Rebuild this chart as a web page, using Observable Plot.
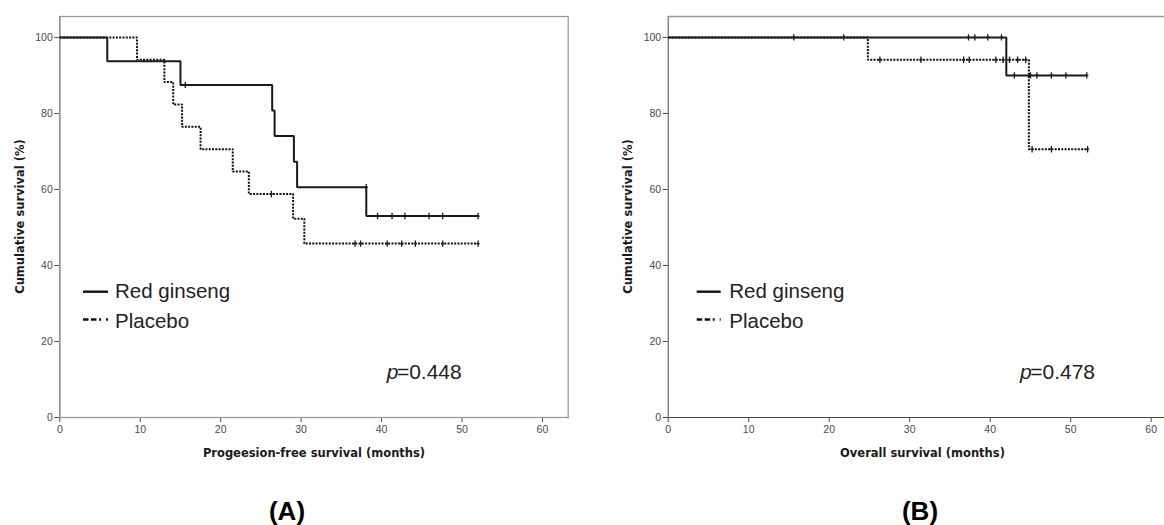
<!DOCTYPE html>
<html><head><meta charset="utf-8">
<script src="https://cdn.jsdelivr.net/npm/d3@7"></script>
<script src="https://cdn.jsdelivr.net/npm/@observablehq/plot@0.6"></script>
<style>
html,body{margin:0;padding:0;background:#fff;width:1164px;height:525px;overflow:hidden;position:relative}
.panel{position:absolute;top:0}
#overlay{position:absolute;left:0;top:0;pointer-events:none}
</style>
</head><body>
<div id="pA" class="panel" style="left:0px"></div>
<div id="pB" class="panel" style="left:582px"></div>
<svg id="overlay" width="1164" height="525"></svg>
<script>
// ---- data ----
const timeTicks = [0, 10, 20, 30, 40, 50, 60];
const survTicks = [0, 20, 40, 60, 80, 100];
const seriesNames = ["Red ginseng", "Placebo"];
const panelLabels = ["(A)", "(B)"];
const xTitles = ["Progeesion-free survival (months)", "Overall survival (months)"];
const yTitle = "Cumulative survival (%)";
const pValues = ["0.448", "0.478"];

// Panel A: progression-free survival
const pfsRedTime = [0, 5.9, 15.0, 26.4, 26.7, 29.1, 29.5, 38.1, 52.0];
const pfsRedSurv = [100, 93.75, 87.5, 80.77, 74.04, 67.31, 60.58, 53.0, 53.0];
const pfsRedCensTime = [15.6, 38.1, 39.5, 41.3, 42.9, 45.9, 47.6, 52.0];
const pfsRedCensSurv = [87.5, 60.58, 53.0, 53.0, 53.0, 53.0, 53.0, 53.0];
const pfsPlaTime = [0, 9.6, 13.0, 14.1, 15.2, 17.5, 21.5, 23.5, 29.0, 30.4, 52.0];
const pfsPlaSurv = [100, 94.12, 88.24, 82.35, 76.47, 70.59, 64.71, 58.82, 52.29, 45.75, 45.75];
const pfsPlaCensTime = [26.3, 36.7, 37.4, 40.7, 42.5, 44.2, 47.6, 52.0];
const pfsPlaCensSurv = [58.82, 45.75, 45.75, 45.75, 45.75, 45.75, 45.75, 45.75];

// Panel B: overall survival
const osRedTime = [0, 42.0, 52.0];
const osRedSurv = [100, 90.0, 90.0];
const osRedCensTime = [15.6, 21.8, 37.3, 38.1, 39.7, 41.4, 43.0, 45.0, 45.8, 47.6, 49.4, 52.0];
const osRedCensSurv = [100, 100, 100, 100, 100, 100, 90, 90, 90, 90, 90, 90];
const osPlaTime = [0, 24.8, 44.8, 52.1];
const osPlaSurv = [100, 94.12, 70.59, 70.59];
const osPlaCensTime = [26.3, 31.4, 36.7, 37.4, 40.7, 41.6, 42.4, 43.4, 44.4, 45.2, 47.6, 52.1];
const osPlaCensSurv = [94.12, 94.12, 94.12, 94.12, 94.12, 94.12, 94.12, 94.12, 94.12, 70.59, 70.59, 70.59];

const yDomain = [0, 105.5];

// ---- helpers ----
const zip = (t, s) => t.map((v, i) => ({t: v, s: s[i]}));
const censorSymbol = {
  draw(ctx) {
    ctx.moveTo(0, -3.2); ctx.lineTo(0, 3.2);
    ctx.moveTo(-1.6, 0); ctx.lineTo(1.6, 0);
  }
};

function panel({red, pla, redC, plaC, width, marginLeft, marginRight, xMax, closed}) {
  const marks = [];
  if (closed) marks.push(Plot.frame({stroke: "#999", strokeWidth: 1.3}));
  else marks.push(Plot.ruleY([yDomain[1]], {stroke: "#999", strokeWidth: 1.3}));
  marks.push(
    Plot.line(pla, {x: "t", y: "s", curve: "step-after", stroke: "#111", strokeWidth: 2,
      strokeDasharray: "2,1.3", strokeLinecap: "butt", strokeLinejoin: "miter"}),
    Plot.line(red, {x: "t", y: "s", curve: "step-after", stroke: "#1a1a1a", strokeWidth: 2,
      strokeLinecap: "butt", strokeLinejoin: "miter"}),
    Plot.dot(plaC, {x: "t", y: "s", symbol: censorSymbol, stroke: "#1a1a1a", strokeWidth: 1.3, fill: "none"}),
    Plot.dot(redC, {x: "t", y: "s", symbol: censorSymbol, stroke: "#1a1a1a", strokeWidth: 1.3, fill: "none"})
  );
  return Plot.plot({
    width, height: 525,
    marginLeft, marginRight, marginTop: 16, marginBottom: 108,
    style: {fontFamily: "'Liberation Sans', Arial, sans-serif", fontSize: "10.5px", color: "#4a4a4a", background: "transparent", overflow: "visible"},
    x: {domain: [0, xMax], ticks: timeTicks, tickSize: 5, tickPadding: 3, label: null, line: true},
    y: {domain: yDomain, ticks: survTicks, tickSize: 5, tickPadding: 2, label: null, line: true},
    marks
  });
}

document.getElementById("pA").appendChild(panel({
  red: zip(pfsRedTime, pfsRedSurv), pla: zip(pfsPlaTime, pfsPlaSurv),
  redC: zip(pfsRedCensTime, pfsRedCensSurv), plaC: zip(pfsPlaCensTime, pfsPlaCensSurv),
  width: 582, marginLeft: 59.3, marginRight: 14.3, xMax: 63.2, closed: true
}));
document.getElementById("pB").appendChild(panel({
  red: zip(osRedTime, osRedSurv), pla: zip(osPlaTime, osPlaSurv),
  redC: zip(osRedCensTime, osRedCensSurv), plaC: zip(osPlaCensTime, osPlaCensSurv),
  width: 582, marginLeft: 85.7, marginRight: 0, xMax: 61.65, closed: false
}));

// ---- annotations (titles, legends, p-values, panel labels) ----
const ov = d3.select("#overlay");
const panelsLayout = [
  {ylabX: 19, xlabX: 314, capX: 287, legLine: [83, 108], legText: 115, pX: 386.7},
  {ylabX: 627, xlabX: 922.5, capX: 920, legLine: [696.7, 720.7], legText: 729.3, pX: 1020}
];
panelsLayout.forEach((L, i) => {
  ov.append("text").attr("transform", `translate(${L.ylabX + 4.5},216.5) rotate(-90)`)
    .attr("text-anchor", "middle").attr("font-family", "'DejaVu Sans', sans-serif")
    .attr("font-weight", "bold").attr("font-size", 11.5).attr("fill", "#1a1a1a").text(yTitle);
  ov.append("text").attr("x", L.xlabX).attr("y", 456.5).attr("text-anchor", "middle")
    .attr("font-family", "'DejaVu Sans', sans-serif").attr("font-weight", "bold")
    .attr("font-size", 11.5).attr("fill", "#1a1a1a").text(xTitles[i]);
  ov.append("text").attr("x", L.capX).attr("y", 520).attr("text-anchor", "middle")
    .attr("font-family", "'Liberation Sans', Arial, sans-serif").attr("font-weight", "bold")
    .attr("font-size", 26).attr("fill", "#000").text(panelLabels[i]);
  // legend
  ov.append("line").attr("x1", L.legLine[0]).attr("x2", L.legLine[1]).attr("y1", 291.7).attr("y2", 291.7)
    .attr("stroke", "#111").attr("stroke-width", 2.4);
  ov.append("line").attr("x1", L.legLine[0]).attr("x2", L.legLine[1]).attr("y1", 319.5).attr("y2", 319.5)
    .attr("stroke", "#111").attr("stroke-width", 2.4).attr("stroke-dasharray", "5.5,2.5,5.5,2.5,2,5");
  ov.append("text").attr("x", L.legText).attr("y", 298).attr("font-family", "'Liberation Sans', Arial, sans-serif")
    .attr("font-size", 20.5).attr("fill", "#222").text(seriesNames[0]);
  ov.append("text").attr("x", L.legText).attr("y", 328).attr("font-family", "'Liberation Sans', Arial, sans-serif")
    .attr("font-size", 20.5).attr("fill", "#222").text(seriesNames[1]);
  // p-value
  const t = ov.append("text").attr("x", L.pX).attr("y", 379)
    .attr("font-family", "'Liberation Sans', Arial, sans-serif").attr("font-size", 21).attr("fill", "#222");
  t.append("tspan").attr("font-style", "italic").text("p");
  t.append("tspan").attr("dx", -1.5).text("=" + pValues[i]);
});
</script>
</body></html>
